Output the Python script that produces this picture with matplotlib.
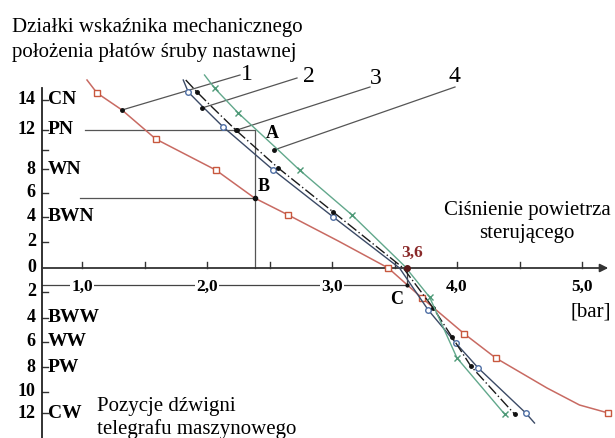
import matplotlib
matplotlib.use("Agg")
import matplotlib.pyplot as plt

plt.rcParams['font.family'] = ['Liberation Serif', 'DejaVu Serif']

# ---- data (x = cisnienie [bar], y = dzialki wskaznika, skala rysunku) ----
# krzywa 1 (czerwona, kwadraty)
c1_x = [1.04, 1.12, 1.32, 1.59, 2.07, 2.38, 2.65, 3.05, 3.45, 3.72, 4.06, 4.31, 4.72, 4.98, 5.21]
c1_y = [15.04, 14.0, 12.64, 10.32, 7.84, 5.6, 4.24, 2.16, 0.0, -2.4, -5.28, -7.2, -9.6, -10.96, -11.6]
c1_mk = [1, 3, 4, 6, 8, 9, 10, 11, 14]
# krzywa 2 (niebieska, kolka)
c2_x = [1.81, 1.85, 1.96, 2.13, 2.53, 3.01, 3.54, 3.77, 3.99, 4.17, 4.55, 4.62]
c2_y = [15.04, 14.08, 12.96, 11.28, 7.84, 4.08, 0.0, -3.36, -6.0, -8.0, -11.6, -12.4]
c2_mk = [1, 3, 4, 5, 7, 8, 9, 10]
# krzywa 3 (czarna, kropki)
c3_x = [1.83, 1.92, 2.04, 2.23, 2.57, 3.01, 3.57, 3.81, 3.96, 4.11, 4.46]
c3_y = [15.04, 14.08, 12.88, 11.04, 8.0, 4.48, 0.0, -3.2, -5.52, -7.84, -11.68]
c3_mk = [1, 3, 4, 5, 7, 8, 9, 10]
# krzywa 4 (zielona, krzyzyki)
c4_x = [1.98, 2.06, 2.25, 2.57, 2.74, 3.16, 3.58, 3.78, 4.0, 4.38]
c4_y = [15.44, 14.4, 12.4, 9.44, 7.84, 4.24, 0.16, -2.32, -7.2, -11.68]
c4_mk = [1, 2, 4, 5, 7, 8, 9]

# podzialka osi y: pozycje na rysunku i opisy
yt_up_pos = [13.44, 11.04, 9.44, 7.92, 6.0, 4.08, 2.08, 0.0]
yt_up_num = ['14', '12', '', '8', '6', '4', '2', '0']
yt_up_txt = ['CN', 'PN', '', 'WN', '', 'BWN', '', '']
yt_dn_pos = [-1.92, -4.0, -5.92, -7.92, -9.92, -11.6]
yt_dn_num = ['2', '4', '6', '8', '10', '12']
yt_dn_txt = ['', 'BWW', 'WW', 'PW', '', 'CW']

xt_pos = [1.0, 1.5, 2.0, 2.5, 3.0, 3.5, 4.0, 4.5, 5.0]
xt_lab = {1.0: '1,0', 2.0: '2,0', 3.0: '3,0', 4.0: '4,0', 5.0: '5,0'}

# punkty A, B, C
p_bar = 2.384
y_pn = 11.04
y_b = 5.6
c_bar = 3.6
y_c = -1.36

# linie odniesienia do numerow krzywych
lead_top = [(2.264, 15.44), (2.72, 15.2), (3.304, 14.48), (3.984, 14.48)]
lead_end = [(1.32, 12.64), (1.96, 12.8), (2.24, 11.04), (2.536, 9.44)]
lead_lab = ['1', '2', '3', '4']
lead_lab_xy = [(2.32, 15.44), (2.816, 15.28), (3.352, 15.12), (3.976, 15.28)]

fig = plt.figure(figsize=(6.15, 4.38), dpi=100)
ax = fig.add_axes([0, 0, 1, 1])
ax.set_xlim(0.344, 5.264)
ax.set_ylim(-13.6, 21.44)
ax.axis('off')

ax_x0 = 0.68
# os y
ax.plot([ax_x0, ax_x0], [-13.6, 14.4], color='#222222', lw=1.3, zorder=3)
# os x ze strzalka
ax.annotate('', xy=(5.21, 0), xytext=(ax_x0, 0),
            arrowprops=dict(arrowstyle='-|>', color='#333333', lw=1.3,
                            mutation_scale=12, shrinkA=0, shrinkB=0), zorder=3)

for p, n, t in zip(yt_up_pos + yt_dn_pos, yt_up_num + yt_dn_num, yt_up_txt + yt_dn_txt):
    if p != 0.0:
        ax.plot([ax_x0, ax_x0 + 0.045], [p, p], color='#333333', lw=1.0)
    if n:
        ax.text(0.63, p, n, ha='right', va='center', fontsize=13, fontweight='bold')
    if t:
        ax.text(0.725, p, t, ha='left', va='center', fontsize=14, fontweight='bold')

# linia C
ax.plot([ax_x0, c_bar, c_bar], [y_c, y_c, 0], color='#444444', lw=0.9)
for xp in xt_pos:
    ax.plot([xp, xp], [0, 0.5], color='#333333', lw=1.0)
    if xp in xt_lab:
        ax.text(xp, -1.5, xt_lab[xp], ha='center', va='center', fontsize=12.5,
                fontweight='bold', bbox=dict(fc='white', ec='none', pad=1))

# linie PN i B
ax.plot([1.02, p_bar, p_bar], [y_pn, y_pn, 0], color='#555555', lw=0.9)
ax.plot([0.98, p_bar], [y_b, y_b], color='#555555', lw=0.9)

# krzywe
ax.plot(c1_x, c1_y, color='#c86a62', lw=1.1, marker='s', markevery=c1_mk,
        ms=4.5, mfc='white', mec='#c8583e', mew=1.0, zorder=4)
ax.plot(c2_x, c2_y, color='#3b4a66', lw=1.0, marker='o', markevery=c2_mk,
        ms=4, mfc='white', mec='#4f6fa5', mew=1.0, zorder=4)
ax.plot(c3_x, c3_y, color='#1a1a1a', lw=1.0, ls=(0, (8, 2, 1, 2)), marker='o',
        markevery=c3_mk, ms=2.5, mfc='#111111', mec='#111111', zorder=4)
ax.plot(c4_x, c4_y, color='#62a88c', lw=1.0, marker='x', markevery=c4_mk,
        ms=4, mec='#4f9a78', mew=1.0, zorder=4)

# numery krzywych
for (x0, y0), (x1, y1), lab, (lx, ly) in zip(lead_top, lead_end, lead_lab, lead_lab_xy):
    ax.plot([x0, x1], [y0, y1], color='#555555', lw=0.9)
    ax.plot([x1], [y1], 'o', color='#111111', ms=2.5, zorder=5)
    ax.text(lx, ly, lab, ha='center', va='center', fontsize=17)

ax.plot([p_bar], [y_b], 'o', color='#111111', ms=3, zorder=5)
ax.plot([c_bar], [0], 'o', color='#5a1a1a', ms=4, zorder=5)
ax.plot([c_bar], [y_c], 'o', color='#111111', ms=2, zorder=5)

ax.text(2.52, 10.72, 'A', ha='center', va='center', fontsize=13, fontweight='bold')
ax.text(2.45, 6.48, 'B', ha='center', va='center', fontsize=13, fontweight='bold')
ax.text(3.52, -2.48, 'C', ha='center', va='center', fontsize=13, fontweight='bold')
ax.text(3.64, 1.2, '3,6', ha='center', va='center', fontsize=12.5, fontweight='bold',
        color='#8a2a2a')

ax.text(0.44, 18.88, 'Działki wskaźnika mechanicznego', ha='left', va='baseline', fontsize=15)
ax.text(0.44, 16.88, 'położenia płatów śruby nastawnej', ha='left', va='baseline', fontsize=15)
ax.text(4.56, 4.24, 'Ciśnienie powietrza', ha='center', va='baseline', fontsize=15)
ax.text(4.56, 2.4, 'sterującego', ha='center', va='baseline', fontsize=15)
ax.text(5.232, -3.84, '[bar]', ha='right', va='baseline', fontsize=15)
ax.text(1.12, -11.44, 'Pozycje dźwigni', ha='left', va='baseline', fontsize=15)
ax.text(1.12, -13.28, 'telegrafu maszynowego', ha='left', va='baseline', fontsize=15)

fig.savefig('out.png', dpi=100)
